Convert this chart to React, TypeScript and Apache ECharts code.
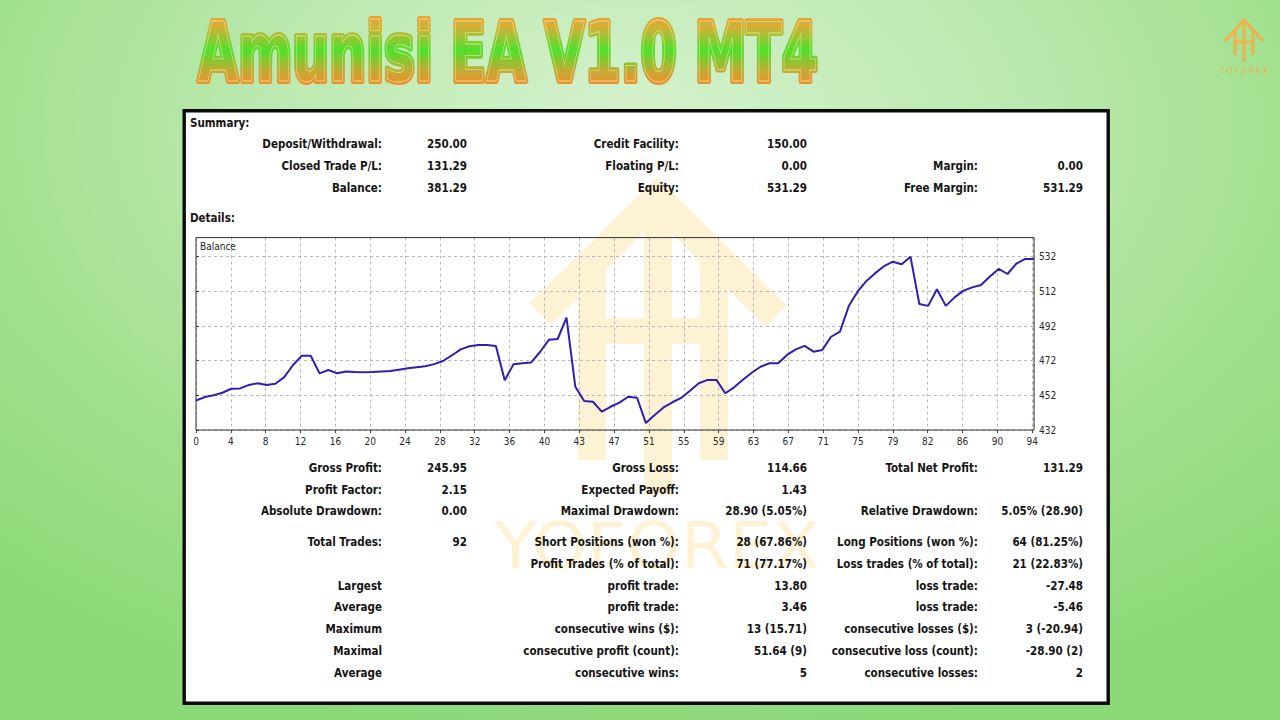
import React, { useEffect, useMemo, useRef } from "react";
import * as echarts from "echarts";

// ---------- DATA ----------
const balance = [
  449, 451, 452, 453.5, 455.8, 456, 458, 459, 458, 458.7,
  462.5, 469.5, 474.9, 474.9, 464.7, 466.6, 464.7, 465.8, 465.5, 465.3,
  465.5, 465.8, 466, 466.8, 467.6, 468.2, 468.8, 470, 471.8, 475,
  478.5, 480.3, 481, 481, 480.5, 460.7, 470, 470.5, 471, 477,
  484, 484.5, 496.8, 457, 448.7, 448.3, 442.6, 445.4, 447.8, 451.2,
  450.6, 436, 440.7, 445, 448, 450.5, 454.7, 459, 460.9, 460.9,
  453.2, 456.6, 461, 465, 468.5, 470.5, 470.5, 475.3, 478.5, 480.5,
  477.2, 478.2, 485.8, 488.7, 503.5, 511.8, 518, 522.5, 526.5, 529.1,
  527.6, 532, 504.7, 503.6, 513.2, 503.6, 508.5, 512.4, 514.3, 515.7,
  520.5, 524.9, 522, 528, 530.7, 530.7,
];
const xTickLabels = [
  "0", "4", "8", "12", "16", "20", "24", "28", "32", "36", "40", "43", "47",
  "51", "55", "59", "63", "67", "71", "75", "79", "82", "86", "90", "94",
];
const xTickStep = 3.95;
const yMin = 432;
const yMax = 543;
const yStep = 20;

const titleText = "Amunisi EA V1.0 MT4";
const brandText = "YOFOREX";
const seriesName = "Balance";

const summaryLabels1 = ["Deposit/Withdrawal:", "Closed Trade P/L:", "Balance:"];
const summaryValues1 = ["250.00", "131.29", "381.29"];
const summaryLabels2 = ["Credit Facility:", "Floating P/L:", "Equity:"];
const summaryValues2 = ["150.00", "0.00", "531.29"];
const summaryLabels3 = ["", "Margin:", "Free Margin:"];
const summaryValues3 = ["", "0.00", "531.29"];

const detailLabels1 = ["Gross Profit:", "Profit Factor:", "Absolute Drawdown:", "Total Trades:", "", "Largest", "Average", "Maximum", "Maximal", "Average"];
const detailValues1 = ["245.95", "2.15", "0.00", "92", "", "", "", "", "", ""];
const detailLabels2 = ["Gross Loss:", "Expected Payoff:", "Maximal Drawdown:", "Short Positions (won %):", "Profit Trades (% of total):", "profit trade:", "profit trade:", "consecutive wins ($):", "consecutive profit (count):", "consecutive wins:"];
const detailValues2 = ["114.66", "1.43", "28.90 (5.05%)", "28 (67.86%)", "71 (77.17%)", "13.80", "3.46", "13 (15.71)", "51.64 (9)", "5"];
const detailLabels3 = ["Total Net Profit:", "", "Relative Drawdown:", "Long Positions (won %):", "Loss trades (% of total):", "loss trade:", "loss trade:", "consecutive losses ($):", "consecutive loss (count):", "consecutive losses:"];
const detailValues3 = ["131.29", "", "5.05% (28.90)", "64 (81.25%)", "21 (22.83%)", "-27.48", "-5.46", "3 (-20.94)", "-28.90 (2)", "2"];

// ---------- LAYOUT ----------
const FONT = '"DejaVu Sans Condensed", "DejaVu Sans", sans-serif';
const TEXT_COLOR = "#141414";
const summaryRowsY = [144, 166, 188];
const detailRowsY = [468, 490, 511, 542, 564, 586, 607, 629, 651, 673];
const colLabelX = [382, 679, 978];
const colValueX = [467, 807, 1083];
const TITLE_SIZE = 80;

function measure(text: string, font: string) {
  const ctx = document.createElement("canvas").getContext("2d")!;
  ctx.font = font;
  return ctx.measureText(text).width;
}

export default function App() {
  const ref = useRef<HTMLDivElement>(null);
  const titleSx = useMemo(
    () => 620 / measure(titleText, `bold ${TITLE_SIZE}px ${FONT}`),
    []
  );

  useEffect(() => {
    document.body.style.margin = "0";
    const chart = echarts.init(ref.current!, null, { renderer: "svg" });

    const bodyFont = `bold 13px ${FONT}`;
    const sx =
      (142 / measure("Short Positions (won %):", bodyFont) +
        122 / measure("Deposit/Withdrawal:", bodyFont)) /
      2;

    const txt = (text: string, x: number, y: number, align: string) => ({
      type: "text",
      x,
      y,
      scaleX: sx,
      z: 10,
      silent: true,
      style: {
        text,
        x: 0,
        y: 0,
        align,
        verticalAlign: "middle",
        fill: TEXT_COLOR,
        fontSize: 13,
        fontWeight: "bold",
        fontFamily: FONT,
      },
    });

    const texts: any[] = [];
    texts.push(txt("Summary:", 190, 123, "left"));
    texts.push(txt("Details:", 190, 218, "left"));
    const sumCols = [
      [summaryLabels1, summaryValues1],
      [summaryLabels2, summaryValues2],
      [summaryLabels3, summaryValues3],
    ];
    sumCols.forEach(([labels, values], c) => {
      labels.forEach((l, r) => {
        if (l) texts.push(txt(l, colLabelX[c], summaryRowsY[r], "right"));
        if (values[r]) texts.push(txt(values[r], colValueX[c], summaryRowsY[r], "right"));
      });
    });
    const detCols = [
      [detailLabels1, detailValues1],
      [detailLabels2, detailValues2],
      [detailLabels3, detailValues3],
    ];
    detCols.forEach(([labels, values], c) => {
      labels.forEach((l, r) => {
        if (l) texts.push(txt(l, colLabelX[c], detailRowsY[r], "right"));
        if (values[r]) texts.push(txt(values[r], colValueX[c], detailRowsY[r], "right"));
      });
    });

    // Watermark (solid pale gold under everything)
    const WM = "#fdf2d3";
    const watermark: any[] = [
      {
        type: "polyline",
        z: -1,
        silent: true,
        shape: { points: [[540, 314], [657, 198], [776, 316]] },
        style: { stroke: WM, lineWidth: 30, fill: "none", lineJoin: "miter", lineCap: "butt" },
      },
      { type: "rect", z: -1, silent: true, shape: { x: 644, y: 205, width: 28, height: 290 }, style: { fill: WM } },
      { type: "rect", z: -1, silent: true, shape: { x: 578, y: 255, width: 28, height: 205 }, style: { fill: WM } },
      { type: "rect", z: -1, silent: true, shape: { x: 700, y: 255, width: 28, height: 205 }, style: { fill: WM } },
      { type: "rect", z: -1, silent: true, shape: { x: 578, y: 318, width: 150, height: 26 }, style: { fill: WM } },
    ];
    const wmFont = `64px ${FONT}`;
    const wmSx = 325 / measure(brandText, wmFont);
    watermark.push({
      type: "text",
      x: 657,
      y: 546,
      scaleX: wmSx,
      z: -1,
      silent: true,
      style: {
        text: brandText,
        x: 0,
        y: 0,
        align: "center",
        verticalAlign: "middle",
        fill: WM,
        fontSize: 64,
        fontFamily: FONT,
      },
    });

    // small logo top right
    const GOLD = "#e9b452";
    const logo: any[] = [
      {
        type: "polyline",
        silent: true,
        shape: { points: [[1225, 41], [1244, 20], [1263, 41]] },
        style: { stroke: GOLD, lineWidth: 3.2, fill: "none" },
      },
      { type: "line", silent: true, shape: { x1: 1244, y1: 20, x2: 1244, y2: 62 }, style: { stroke: GOLD, lineWidth: 3.2 } },
      { type: "line", silent: true, shape: { x1: 1235, y1: 31, x2: 1235, y2: 55 }, style: { stroke: GOLD, lineWidth: 3.2 } },
      { type: "line", silent: true, shape: { x1: 1253, y1: 31, x2: 1253, y2: 55 }, style: { stroke: GOLD, lineWidth: 3.2 } },
      { type: "line", silent: true, shape: { x1: 1235, y1: 42, x2: 1253, y2: 42 }, style: { stroke: GOLD, lineWidth: 3.2 } },
      {
        type: "text",
        x: 1244,
        y: 71,
        silent: true,
        style: {
          text: "Y O F O R E X",
          x: 0,
          y: 0,
          align: "center",
          verticalAlign: "middle",
          fill: GOLD,
          fontSize: 8,
          fontFamily: FONT,
        },
      },
    ];

    const option: any = {
      animation: false,
      backgroundColor: "transparent",
      grid: {
        left: 196,
        right: 1280 - 1034,
        top: 237.6,
        bottom: 720 - 430,
        show: true,
        z: 3,
        borderColor: "#333333",
        borderWidth: 1,
        backgroundColor: "transparent",
      },
      xAxis: {
        type: "value",
        min: 0,
        max: balance.length - 1,
        interval: xTickStep,
        axisLine: { show: false },
        axisTick: { show: true, length: 3, lineStyle: { color: "#444" } },
        axisLabel: {
          margin: 6,
          color: "#2a2a2a",
          fontSize: 10,
          fontFamily: FONT,
          showMaxLabel: false,
          formatter: (v: number) => xTickLabels[Math.round(v / xTickStep)] ?? "",
        },
        splitLine: { show: true, lineStyle: { color: "#b8b8b8", type: [3, 3], width: 1 } },
      },
      yAxis: {
        type: "value",
        position: "right",
        min: yMin,
        max: yMax,
        interval: yStep,
        axisLine: { show: false },
        axisTick: { show: true, length: 3, lineStyle: { color: "#444" } },
        axisLabel: {
          margin: 5,
          color: "#2a2a2a",
          fontSize: 10,
          fontFamily: FONT,
          showMaxLabel: false,
        },
        splitLine: { show: true, lineStyle: { color: "#b8b8b8", type: [3, 3], width: 1 } },
      },
      series: [
        {
          name: seriesName,
          type: "line",
          data: balance.map((v, i) => [i, v]),
          showSymbol: false,
          symbol: "none",
          z: 5,
          lineStyle: { color: "#2e1fb0", width: 2 },
        },
      ],
      graphic: {
        elements: [
          {
            type: "rect",
            z: -2,
            silent: true,
            shape: { x: 184.2, y: 110.7, width: 924, height: 592.6 },
            style: { fill: "#ffffff", stroke: "#0b0b0b", lineWidth: 3.4 },
          },
          ...watermark,
          {
            type: "text",
            x: 200,
            y: 246,
            z: 10,
            silent: true,
            style: {
              text: seriesName,
              x: 0,
              y: 0,
              align: "left",
              verticalAlign: "middle",
              fill: "#222",
              fontSize: 10,
              fontFamily: FONT,
            },
          },
          ...texts,
          ...logo,
        ],
      },
    };

    chart.setOption(option);
    return () => chart.dispose();
  }, []);

  return (
    <div
      style={{
        position: "absolute",
        left: 0,
        top: 0,
        width: 1280,
        height: 720,
        overflow: "hidden",
        background:
          "radial-gradient(ellipse 75% 85% at 50% 18%, #d5f2ce 0%, #bde9b0 38%, #a0e08c 70%, #8bd977 100%)",
      }}
    >
      <div ref={ref} style={{ width: 1280, height: 720 }} />
      <svg
        width={1280}
        height={110}
        style={{ position: "absolute", left: 0, top: 0, pointerEvents: "none" }}
      >
        <defs>
          <linearGradient id="titleGrad" gradientUnits="userSpaceOnUse" x1="0" y1="-64" x2="0" y2="4">
            <stop offset="0" stopColor="#eaa236" />
            <stop offset="0.18" stopColor="#cdb236" />
            <stop offset="0.5" stopColor="#50e02c" />
            <stop offset="0.8" stopColor="#c4aa34" />
            <stop offset="1" stopColor="#f08e2a" />
          </linearGradient>
        </defs>
        <g transform={`translate(198,81) scale(${titleSx},1.02)`}>
          <text
            x={0}
            y={0}
            fontFamily={FONT}
            fontWeight="bold"
            fontSize={TITLE_SIZE}
            fill="url(#titleGrad)"
            stroke="url(#titleGrad)"
            strokeWidth={6}
            strokeLinejoin="round"
          >
            {titleText}
          </text>
          <text
            x={0}
            y={0}
            fontFamily={FONT}
            fontWeight="bold"
            fontSize={TITLE_SIZE}
            fill="none"
            stroke="rgba(255,250,200,0.55)"
            strokeWidth={0.8}
          >
            {titleText}
          </text>
        </g>
      </svg>
    </div>
  );
}
